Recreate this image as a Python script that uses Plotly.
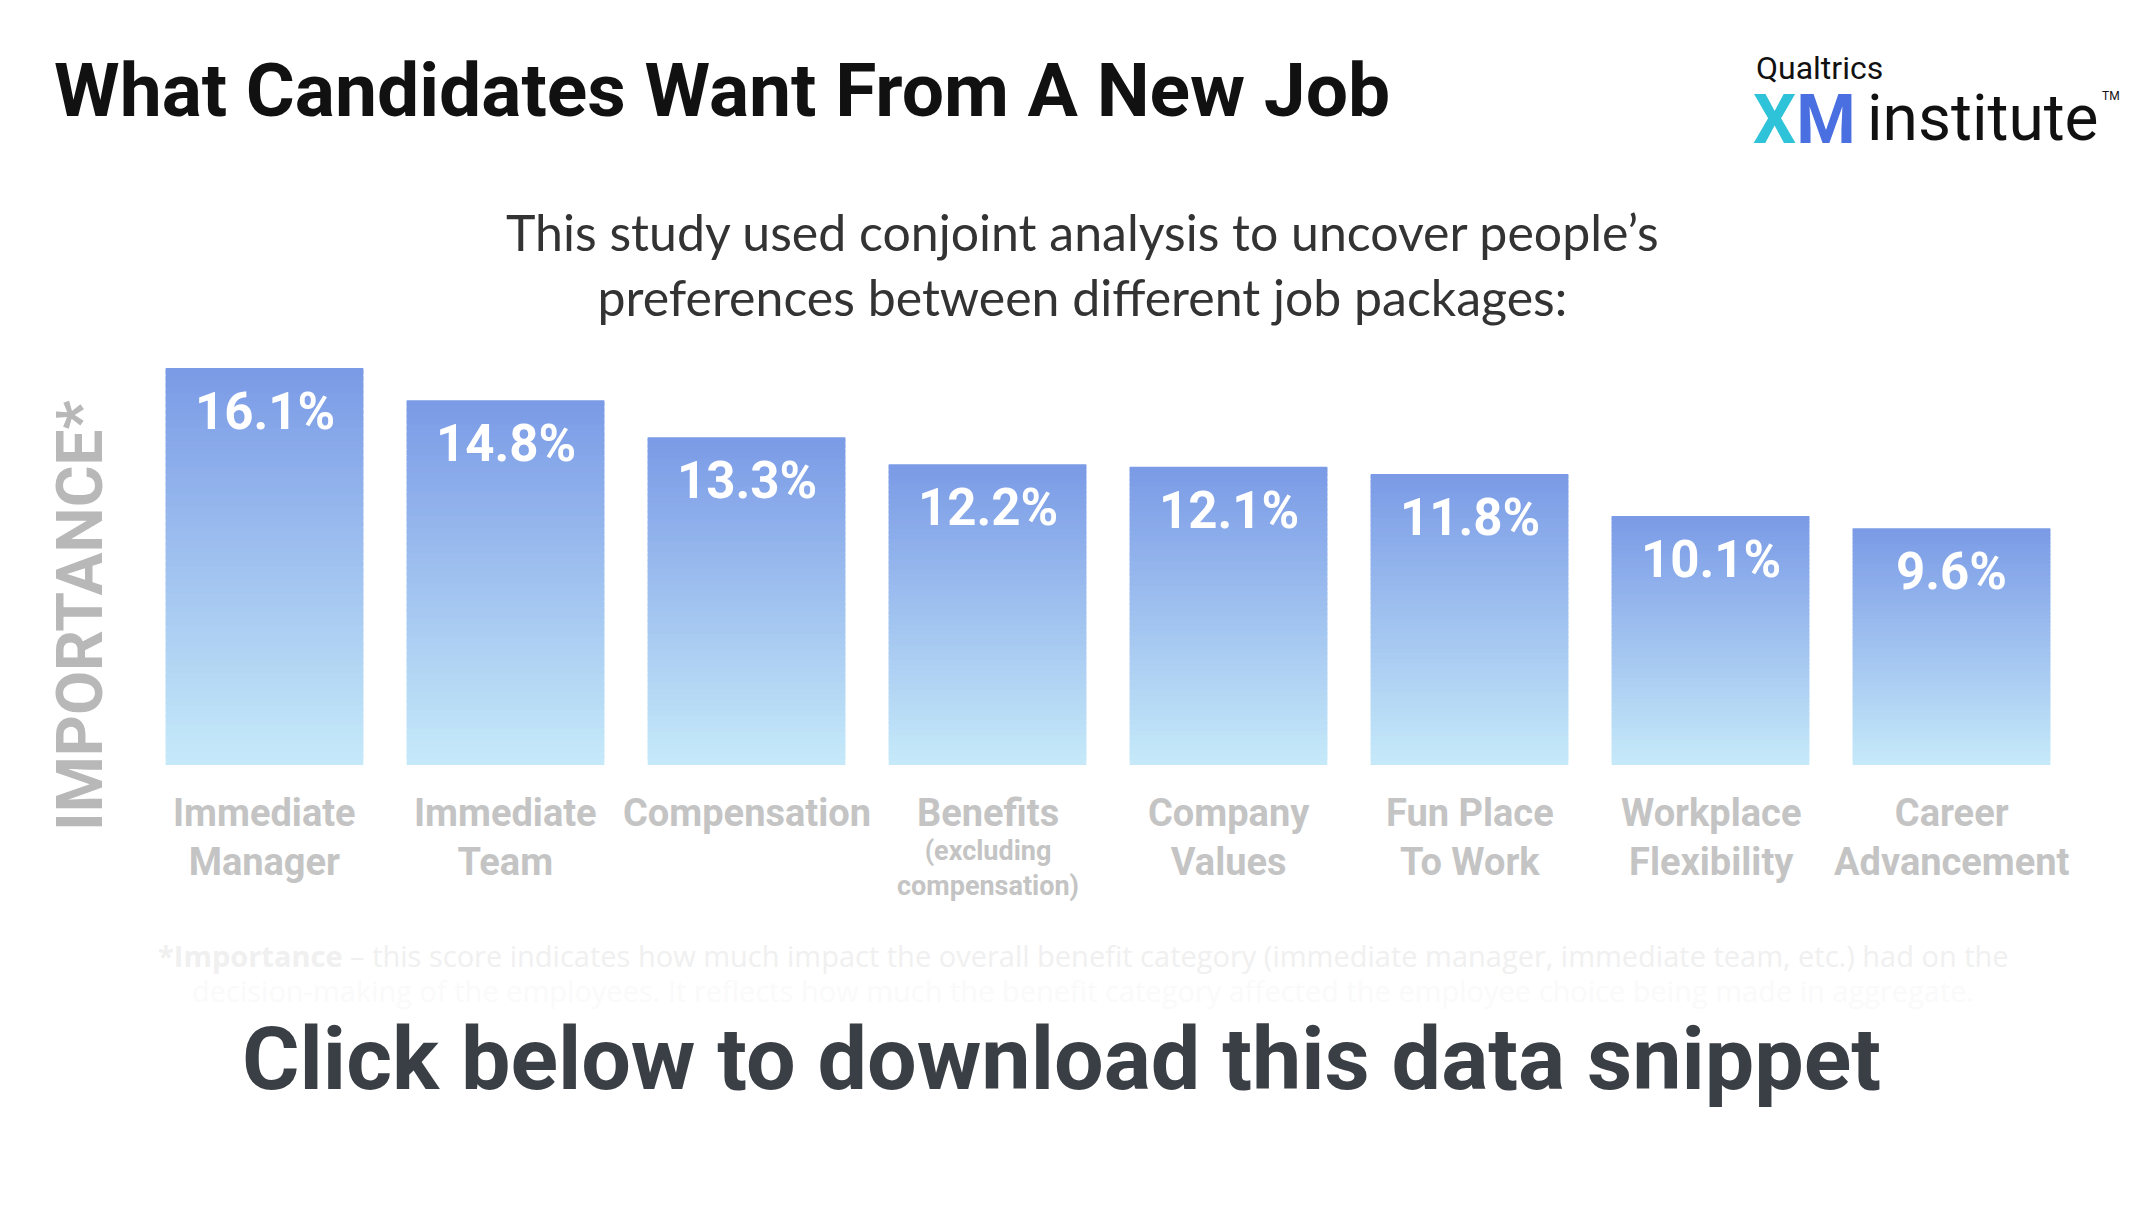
import plotly.graph_objects as go

categories = ["Immediate Manager", "Immediate Team", "Compensation", "Benefits",
              "Company Values", "Fun Place To Work", "Workplace Flexibility", "Career Advancement"]
values = [16.1, 14.8, 13.3, 12.2, 12.1, 11.8, 10.1, 9.6]
value_labels = ["16.1%", "14.8%", "13.3%", "12.2%", "12.1%", "11.8%", "10.1%", "9.6%"]
cat_labels = ["Immediate<br>Manager", "Immediate<br>Team", "Compensation", "Benefits",
              "Company<br>Values", "Fun Place<br>To Work", "Workplace<br>Flexibility", "Career<br>Advancement"]
sub_labels = {"Benefits": "(excluding<br>compensation)"}

W, H = 2150, 1205
def px(x): return x / W
def py(y): return 1 - y / H

top = (122, 154, 230)
bot = (198, 234, 249)
N = 60
fig = go.Figure()
for k in range(N):
    t = (k + 0.5) / N
    c = tuple(round(bot[j] + (top[j] - bot[j]) * t) for j in range(3))
    hi = min(k + 1.8, N)
    fig.add_trace(go.Bar(
        x=categories, y=[v * (hi - k) / N for v in values], base=[v * k / N for v in values],
        marker=dict(color="rgb(%d,%d,%d)" % c, line=dict(width=0)),
        hoverinfo="skip", showlegend=False))

BOLD = "Roboto"
for c, v, lab in zip(categories, values, value_labels):
    fig.add_annotation(x=c, y=v, xref="x", yref="y", text="<b>%s</b>" % lab, showarrow=False,
                       yanchor="top", yshift=-12, font=dict(family=BOLD, size=51, color="white"))
for c, lab in zip(categories, cat_labels):
    fig.add_annotation(x=c, y=0, xref="x", yref="y", text="<b>%s</b>" % lab, showarrow=False,
                       yanchor="top", yshift=-24, font=dict(family=BOLD, size=38, color="#c4c4c4"),
                       align="center")
    if c in sub_labels:
        fig.add_annotation(x=c, y=0, xref="x", yref="y", text="<b>%s</b>" % sub_labels[c], showarrow=False,
                           yanchor="top", yshift=-68, font=dict(family=BOLD, size=27, color="#c4c4c4"),
                           align="center")

ann = [
    dict(x=px(44), y=py(82), text="<b>What Candidates Want From A New Job</b>", xanchor="left", yanchor="middle",
         font=dict(family=BOLD, size=75, color="#111111")),
    dict(x=px(1074), y=py(256), text="This study used conjoint analysis to uncover people’s<br>preferences between different job packages:",
         xanchor="center", yanchor="middle", font=dict(family="Lato", size=50, color="#333333")),
    dict(x=px(72), y=py(608), text="<b>IMPORTANCE*</b>", textangle=-90, xanchor="center", yanchor="middle",
         font=dict(family=BOLD, size=64, color="#b8b8b8")),
    dict(x=px(1075), y=py(947), text="<b>*Importance</b> – this score indicates how much impact the overall benefit category (immediate manager, immediate team, etc.) had on the",
         xanchor="center", yanchor="middle", font=dict(family="Open Sans", size=29, color="#f0f0f0")),
    dict(x=px(1075), y=py(982), text="decision-making of the employees. It reflects how much the benefit category affected the employee choice being made in aggregate.",
         xanchor="center", yanchor="middle", font=dict(family="Open Sans", size=29, color="#fafafa")),
    dict(x=px(1053), y=py(1050), text="<b>Click below to download this data snippet</b>", xanchor="center", yanchor="middle",
         font=dict(family=BOLD, size=88, color="#3a3f45")),
    dict(x=px(1746), y=py(60), text="Qualtrics", xanchor="left", yanchor="middle",
         font=dict(family="Roboto", size=32, color="#111111")),
    dict(x=px(1743), y=py(112), text="<b><span style='color:#2ec3d8'>X</span><span style='color:#4a6fe0'>M</span></b>",
         xanchor="left", yanchor="middle", font=dict(family="Roboto", size=68)),
    dict(x=px(1857), y=py(110), text="institute", xanchor="left", yanchor="middle",
         font=dict(family="Roboto", size=64, color="#111111")),
    dict(x=px(2092), y=py(88), text="TM", xanchor="left", yanchor="middle",
         font=dict(family="Roboto", size=12, color="#111111")),
]
for a in ann:
    fig.add_annotation(xref="paper", yref="paper", showarrow=False, **a)

fig.add_shape(type="line", xref="paper", yref="paper", x0=0, x1=1, y0=py(1203), y1=py(1203),
              line=dict(color="#111111", width=3))

fig.update_layout(
    width=W, height=H, margin=dict(l=0, r=0, t=0, b=0),
    paper_bgcolor="white", plot_bgcolor="white", barmode="overlay", bargap=0.18,
    xaxis=dict(domain=[px(136), px(2064)], showticklabels=False, showgrid=False, zeroline=False,
               showline=False, ticks=""),
    yaxis=dict(domain=[py(757), py(333)], range=[0, 17.2], visible=False),
)
fig.write_html("out.html")
